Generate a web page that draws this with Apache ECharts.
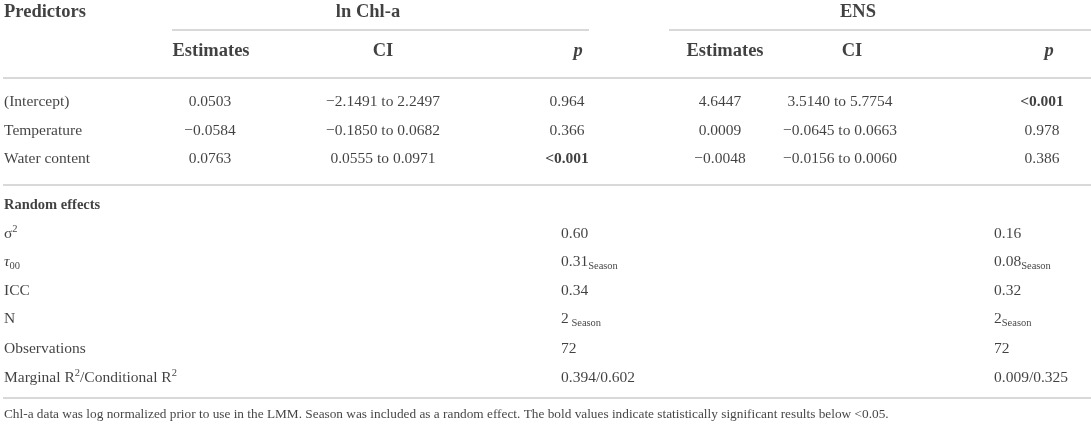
<!DOCTYPE html>
<html>
<head>
<meta charset="utf-8">
<script src="https://cdn.jsdelivr.net/npm/echarts@6/dist/echarts.min.js"></script>
<style>
  html, body { margin: 0; padding: 0; background: #fff; }
  #main { width: 1091px; height: 432px; }
</style>
</head>
<body>
<div id="main"></div>
<script>
// table contents
const groups = ['ln Chl-a', 'ENS']
const subHeads = ['Estimates', 'CI', 'p']
const predictors = ['(Intercept)', 'Temperature', 'Water content']
const chlEst = ['0.0503', '\u22120.0584', '0.0763']
const chlCI = ['\u22122.1491 to 2.2497', '\u22120.1850 to 0.0682', '0.0555 to 0.0971']
const chlP = ['0.964', '0.366', '<0.001']
const ensEst = ['4.6447', '0.0009', '\u22120.0048']
const ensCI = ['3.5140 to 5.7754', '\u22120.0645 to 0.0663', '\u22120.0156 to 0.0060']
const ensP = ['<0.001', '0.978', '0.386']

const randomTitle = 'Random effects'
const randomLabels = ['{nm|\u03c3}{sp|2}', '{ti|\u03c4}{sb|00}', '{nm|ICC}', '{nm|N}', '{nm|Observations}',
  '{nm|Marginal R}{sp|2}{nm|/Conditional R}{sp|2}']
const chlRandom = ['0.60', '0.31', '0.34', '2', '72', '0.394/0.602']
const chlRandomSub = ['', 'Season', '', ' Season', '', '']
const ensRandom = ['0.16', '0.08', '0.32', '2', '72', '0.009/0.325']
const ensRandomSub = ['', 'Season', '', 'Season', '', '']

const footnote = 'Chl-a data was log normalized prior to use in the LMM. Season was included as a random effect. The bold values indicate statistically significant results below <0.05.'

// layout (pixel space of the axes)
const groupX = [368, 858]
const headX = [211, 383, 578, 725, 852, 1049]
const cellX = [210, 383, 567, 720, 840, 1042]
const randX = [561, 994]
const headY = [12, 51]
const rowY = [102, 131, 159]
const randTitleY = 205
const randY = [234, 262, 291, 319, 349, 378]
const footY = 415
const rules = [[172, 589, 30], [669, 1091, 30], [3, 1091, 78], [3, 1091, 185], [3, 1091, 398]]

const FONT = 'Liberation Serif'
const INK = '#111111'

function cell (x, y, txt, align) {
  return { value: [x, y], txt: txt, label: { align: align || 'center' } }
}

const data = []
data.push(cell(4, headY[0], '{hd|Predictors}', 'left'))
groups.forEach((g, i) => data.push(cell(groupX[i], headY[0], '{hd|' + g + '}')))
subHeads.concat(subHeads).forEach((h, i) => {
  data.push(cell(headX[i], headY[1], h === 'p' ? '{hi|p}' : '{hd|' + h + '}'))
})
const cols = [chlEst, chlCI, chlP, ensEst, ensCI, ensP]
predictors.forEach((p, r) => {
  data.push(cell(4, rowY[r], '{nm|' + p + '}', 'left'))
  cols.forEach((col, c) => {
    const v = col[r]
    const st = v.charAt(0) === '<' ? 'bd' : 'nm'
    data.push(cell(cellX[c], rowY[r], '{' + st + '|' + v + '}'))
  })
})
data.push(cell(4, randTitleY, '{bs|' + randomTitle + '}', 'left'))
randomLabels.forEach((l, r) => {
  data.push(cell(4, randY[r], l, 'left'))
  const a = '{nm|' + chlRandom[r] + '}' + (chlRandomSub[r] ? '{sb|' + chlRandomSub[r] + '}' : '')
  const b = '{nm|' + ensRandom[r] + '}' + (ensRandomSub[r] ? '{sb|' + ensRandomSub[r] + '}' : '')
  data.push(cell(randX[0], randY[r], a, 'left'))
  data.push(cell(randX[1], randY[r], b, 'left'))
})
data.push(cell(4, footY, '{ft|' + footnote + '}', 'left'))

const base = { fontFamily: FONT, color: INK }
const rich = {
  hd: Object.assign({ fontSize: 18.5, fontWeight: 'bold', lineHeight: 22 }, base),
  hi: Object.assign({ fontSize: 18.5, fontWeight: 'bold', fontStyle: 'italic', lineHeight: 22 }, base),
  nm: Object.assign({ fontSize: 15.5, lineHeight: 20 }, base),
  ti: Object.assign({ fontSize: 15.5, fontStyle: 'italic', lineHeight: 20 }, base),
  bd: Object.assign({ fontSize: 15.5, fontWeight: 'bold', lineHeight: 20 }, base),
  bs: Object.assign({ fontSize: 14.5, fontWeight: 'bold', lineHeight: 20 }, base),
  sp: Object.assign({ fontSize: 10.5, lineHeight: 12, verticalAlign: 'top' }, base),
  sb: Object.assign({ fontSize: 10.5, lineHeight: 10, verticalAlign: 'bottom' }, base),
  ft: Object.assign({ fontSize: 13.3, lineHeight: 16 }, base)
}

const chart = echarts.init(document.getElementById('main'))
chart.setOption({
  animation: false,
  backgroundColor: '#fff',
  grid: { left: 0, right: 0, top: 0, bottom: 0 },
  xAxis: { type: 'value', min: 0, max: 1091, show: false },
  yAxis: { type: 'value', min: 0, max: 432, inverse: true, show: false },
  series: [{
    type: 'scatter',
    silent: true,
    symbolSize: 0,
    data: data,
    label: {
      show: true,
      position: 'inside',
      verticalAlign: 'middle',
      formatter: p => p.data.txt,
      rich: rich
    },
    markLine: {
      silent: true,
      symbol: ['none', 'none'],
      label: { show: false },
      lineStyle: { color: '#cccccc', width: 1.6, type: 'solid' },
      data: rules.map(r => [{ coord: [r[0], r[2]] }, { coord: [r[1], r[2]] }])
    }
  }]
})
</script>
</body>
</html>
